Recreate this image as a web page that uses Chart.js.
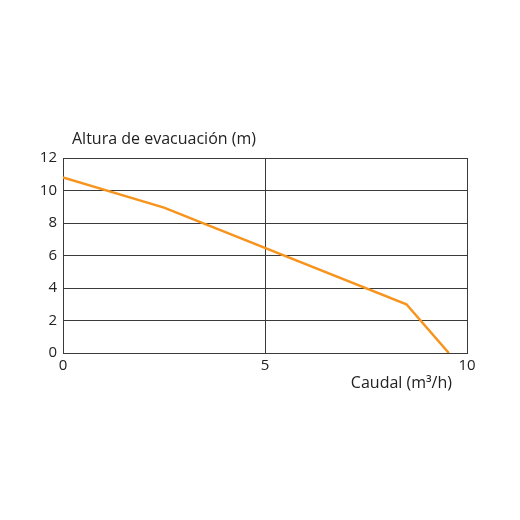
<!DOCTYPE html>
<html>
<head>
<meta charset="utf-8">
<script src="https://cdn.jsdelivr.net/npm/chart.js@4"></script>
<style>
  html, body { margin: 0; padding: 0; background: #fff; }
  #wrap { width: 520px; height: 520px; }
</style>
</head>
<body>
<div id="wrap"><canvas id="pump-graph"></canvas></div>
<script>
// caudal (m3/h) vs altura (m)
const flowValues = [0, 2.5, 8.5, 9.55];
const headValues = [10.8, 8.95, 3, 0];
const yAxisLabel = 'Altura de evacuación (m)';
const xAxisLabel = 'Caudal (m³/h)';

const gridColor = '#3a3a3a';
const textColor = '#222';

const axisLabels = {
  id: 'axisLabels',
  afterDraw(chart) {
    const ctx = chart.ctx;
    const area = chart.chartArea;
    ctx.save();
    ctx.fillStyle = textColor;
    ctx.font = '16px "Open Sans"';
    ctx.textBaseline = 'middle';
    ctx.textAlign = 'left';
    ctx.fillText(yAxisLabel, area.left + 9, area.top - 19);
    ctx.textAlign = 'right';
    ctx.fillText(xAxisLabel, area.right - 15, area.bottom + 30);
    ctx.restore();
  }
};

const pumpChart = new Chart(document.querySelector('#pump-graph'), {
  type: 'scatter',
  data: {
    datasets: [{
      label: 'Curva',
      data: flowValues.map((x, i) => ({ x: x, y: headValues[i] })),
      showLine: true,
      borderColor: '#f7941d',
      borderWidth: 2.5,
      pointRadius: 0,
      tension: 0
    }]
  },
  options: {
    responsive: true,
    maintainAspectRatio: false,
    animation: false,
    layout: {
      padding: { left: 0, top: 158, right: 53, bottom: 0 }
    },
    plugins: {
      legend: { display: false },
      tooltip: { enabled: false }
    },
    scales: {
      x: {
        type: 'linear',
        min: 0,
        max: 10,
        ticks: { stepSize: 5, color: textColor, padding: 4, font: { size: 15, family: 'Open Sans' } },
        grid: { color: gridColor, lineWidth: 1, drawTicks: false },
        border: { color: gridColor, width: 1 },
        afterFit(scale) { scale.height = 167; }
      },
      y: {
        min: 0,
        max: 12,
        ticks: { stepSize: 2, color: textColor, padding: 6, font: { size: 15, family: 'Open Sans' } },
        grid: { color: gridColor, lineWidth: 1, drawTicks: false },
        border: { color: gridColor, width: 1 },
        afterFit(scale) { scale.width = 63; }
      }
    }
  },
  plugins: [axisLabels]
});
</script>
</body>
</html>
